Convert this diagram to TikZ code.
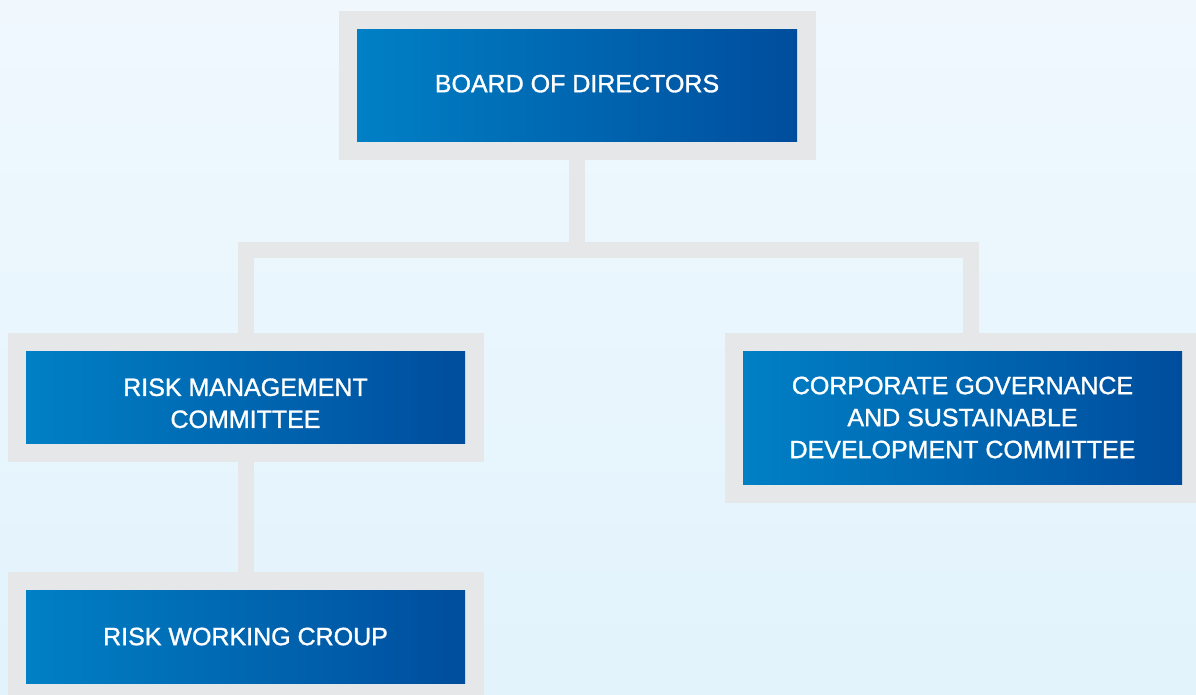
\documentclass[tikz,border=0pt]{standalone}
\usepackage{fontspec}
\setmainfont{Liberation Sans}
\newfontfamily\orgfont[FakeBold=1.2]{Liberation Sans}
\usetikzlibrary{backgrounds}
\definecolor{OrgBlueLight}{HTML}{0080C5}
\definecolor{OrgBlueDark}{HTML}{004D9D}
\definecolor{OrgFrame}{HTML}{E6E7E8}
\definecolor{OrgSkyTop}{HTML}{F0F8FE}
\definecolor{OrgSkyBottom}{HTML}{E2F3FC}

\begin{document}
\begin{tikzpicture}[x=1pt,y=-1pt,font=\orgfont\fontsize{25}{32}\selectfont,
  unit/.style={left color=OrgBlueLight,right color=OrgBlueDark,text=white,
    align=center,inner sep=0pt,minimum width=439pt,
    preaction={draw=OrgFrame,line width=37pt}},
  link/.style={draw=OrgFrame,line width=16pt}]
  \useasboundingbox (0,0) rectangle (1196,694);
  \clip (0,0) rectangle (1196,694);
  \node[unit,minimum width=440pt,minimum height=112pt] (board) at (577,85)
    {BOARD OF DIRECTORS\rule[-3pt]{0pt}{3pt}};
  \node[unit,minimum height=92pt] (rmc) at (245.5,397)
    {\rule{0pt}{30pt}RISK MANAGEMENT\\COMMITTEE};
  \node[unit,minimum height=133pt] (cgsd) at (962.5,417.5)
    {CORPORATE GOVERNANCE\\AND SUSTAINABLE\\DEVELOPMENT COMMITTEE};
  \node[unit,minimum height=93pt] (rwg) at (245.5,636.5)
    {RISK WORKING CROUP};
  \coordinate (bus) at (577,250);
  \coordinate (cgsdtop) at ([xshift=8.5pt]cgsd.north);
  \begin{scope}[on background layer]
    \shade[top color=OrgSkyTop,bottom color=OrgSkyBottom] (0,0) rectangle (1196,694);
    \draw[link] (board.south) -- (bus);
    \draw[link] (rmc.north) |- (bus) -| (cgsdtop);
    \draw[link] (rmc.south) -- (rwg.north);
  \end{scope}
\end{tikzpicture}
\end{document}
